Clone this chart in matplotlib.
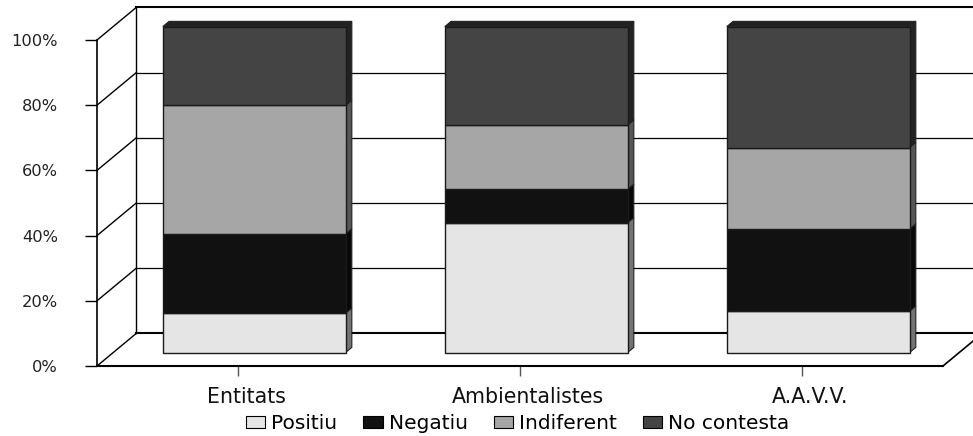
import matplotlib
matplotlib.use("Agg")
import matplotlib.pyplot as plt
from matplotlib.patches import Polygon, Patch
from matplotlib.ticker import PercentFormatter
from matplotlib.transforms import ScaledTranslation

categories = ["Entitats", "Ambientalistes", "A.A.V.V."]
series = ["Positiu", "Negatiu", "Indiferent", "No contesta"]
positiu = [12.1, 39.8, 12.7]
negatiu = [24.3, 10.3, 25.2]
indiferent = [39.4, 19.7, 25.0]
no_contesta = [24.2, 30.2, 37.1]
values = [positiu, negatiu, indiferent, no_contesta]
y_ticks = [0, 20, 40, 60, 80, 100]

front_colors = ["#e5e5e5", "#111111", "#a6a6a6", "#444444"]
side_colors = ["#737373", "#080808", "#555555", "#222222"]

# pseudo 3d: offset of the back wall, in data units
DX = 0.1397
DY = 10.03
D0, D1 = 0.41, 0.57  # depth of bar front / back
W = 0.648


def proj(x, y, d):
    return (x + d * DX, y + d * DY)


fig = plt.figure(figsize=(9.73, 4.36), dpi=100)
ax = fig.add_axes([97 / 973, 70 / 436, 846 / 973, 326 / 436])
ax.set_xlim(-0.5, 2.5)
ax.set_ylim(0, 100)
ax.patch.set_visible(False)
for s in ["top", "right"]:
    ax.spines[s].set_visible(False)
ax.spines["left"].set_linewidth(1.2)
ax.spines["bottom"].set_linewidth(1.5)

x0, x1 = -0.5, 2.5
line_kw = dict(color="black", clip_on=False, zorder=1)

# back wall and left wall
for y in y_ticks:
    lw = 1.5 if y in (0, 100) else 0.9
    bx, by = proj(x0, y, 1)
    ex, ey = proj(x1 + 0.2, y, 1)
    ax.plot([bx, ex], [by, ey], lw=lw, **line_kw)
    ax.plot([x0, bx], [y, by], lw=1.0, **line_kw)
bx, by0 = proj(x0, 0, 1)
_, by1 = proj(x0, 100, 1)
ax.plot([bx, bx], [by0, by1], lw=1.0, **line_kw)
rx, ry = proj(x1, 0, 1)
ax.plot([x1, rx], [0, ry], lw=1.2, **line_kw)

# bars
for i in range(len(categories)):
    bottom = 0
    for k in range(len(series)):
        top = bottom + values[k][i]
        l, r = i - W / 2, i + W / 2
        front = [proj(l, bottom, D0), proj(r, bottom, D0),
                 proj(r, top, D0), proj(l, top, D0)]
        side = [proj(r, bottom, D0), proj(r, bottom, D1),
                proj(r, top, D1), proj(r, top, D0)]
        ax.add_patch(Polygon(side, closed=True, facecolor=side_colors[k],
                             edgecolor="#222222", lw=0.8, clip_on=False, zorder=3))
        ax.add_patch(Polygon(front, closed=True, facecolor=front_colors[k],
                             edgecolor="#1a1a1a", lw=1.0, clip_on=False, zorder=4))
        if k == len(series) - 1:
            cap = [proj(l, top, D0), proj(r, top, D0),
                   proj(r, top, D1), proj(l, top, D1)]
            ax.add_patch(Polygon(cap, closed=True, facecolor=side_colors[k],
                                 edgecolor="#222222", lw=0.8, clip_on=False, zorder=3))
        bottom = top

ax.set_yticks(y_ticks)
ax.yaxis.set_major_formatter(PercentFormatter(decimals=0))
ax.tick_params(axis="y", length=8.6, width=1.0, pad=19.5, labelsize=11.7,
               labelcolor="#222222")
ax.set_xticks(range(len(categories)))
ax.set_xticklabels(categories, fontsize=14.8, color="#111111")
ax.tick_params(axis="x", length=7.2, width=1.0, color="#555555", pad=8)
for lab in ax.get_xticklabels():
    lab.set_transform(lab.get_transform() + ScaledTranslation(8 / 100, 0, fig.dpi_scale_trans))

handles = [Patch(facecolor=front_colors[k], edgecolor="black", lw=0.8) for k in range(len(series))]
fig.legend(handles, series, loc="lower center", bbox_to_anchor=(0.532, -0.035),
           ncol=4, frameon=False, fontsize=14.5, handlelength=0.95, handleheight=0.5,
           handletextpad=0.3, columnspacing=1.3)

fig.savefig("out.png", dpi=100)
